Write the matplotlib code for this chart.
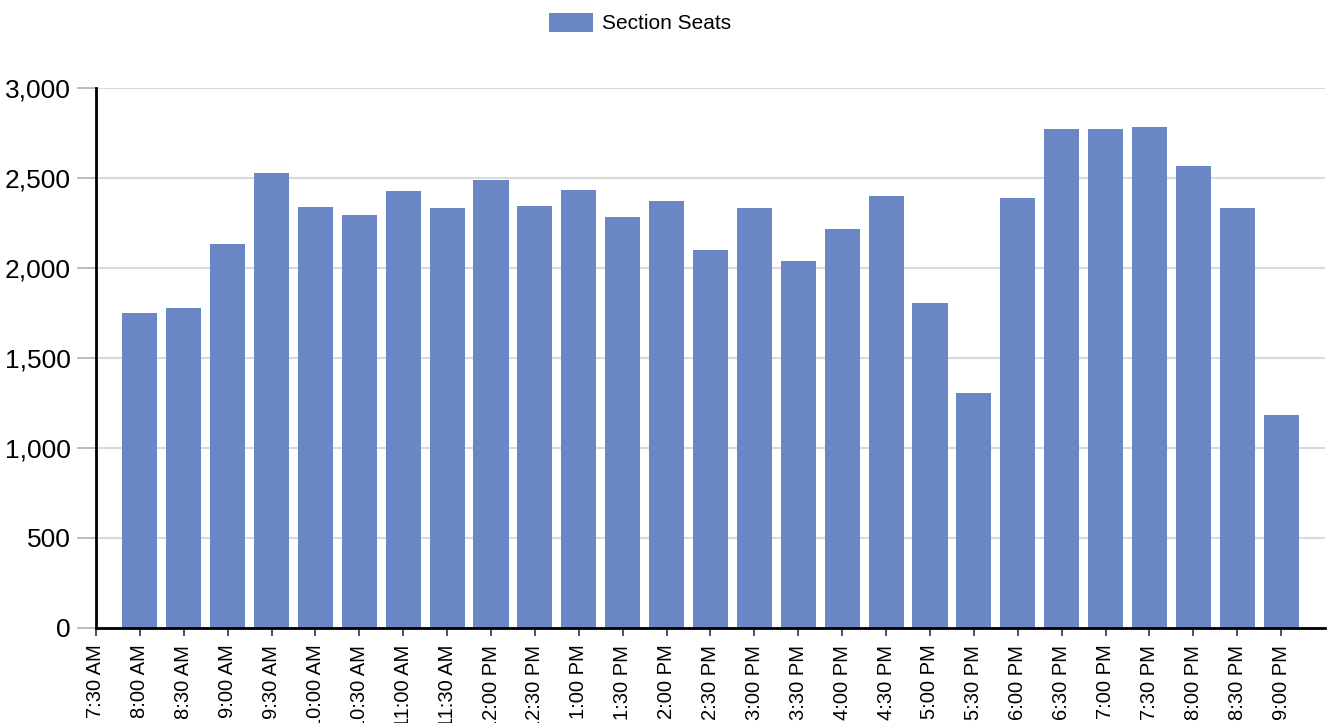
import matplotlib.pyplot as plt
from matplotlib.ticker import FuncFormatter

plt.rcParams['font.family'] = ['Liberation Sans', 'DejaVu Sans']

# godziny (kategorie) i liczba miejsc
godziny = ['7:30 AM', '8:00 AM', '8:30 AM', '9:00 AM', '9:30 AM', '10:00 AM',
           '10:30 AM', '11:00 AM', '11:30 AM', '12:00 PM', '12:30 PM', '1:00 PM',
           '1:30 PM', '2:00 PM', '2:30 PM', '3:00 PM', '3:30 PM', '4:00 PM',
           '4:30 PM', '5:00 PM', '5:30 PM', '6:00 PM', '6:30 PM', '7:00 PM',
           '7:30 PM', '8:00 PM', '8:30 PM', '9:00 PM']
miejsca = [0, 1750, 1778, 2133, 2528, 2339, 2294, 2428, 2333, 2489, 2344, 2433,
           2283, 2372, 2100, 2333, 2039, 2217, 2400, 1806, 1306, 2389, 2772,
           2772, 2783, 2567, 2333, 1183]

kolor = '#6a86c5'

fig = plt.figure(figsize=(13.31, 7.23), dpi=100)
ax = fig.add_axes([0.0721, 0.1314, 0.9234, 0.7469])

x = list(range(len(godziny)))
ax.bar(x, miejsca, width=0.8, color=kolor, label='Section Seats', zorder=2)

ax.set_xlim(0, len(godziny))
ax.set_ylim(0, 3000)
ax.set_yticks(range(0, 3001, 500))
ax.yaxis.set_major_formatter(FuncFormatter(lambda v, p: f'{int(v):,}'))
ax.set_xticks(x)
ax.set_xticklabels(godziny, rotation=90, fontsize=14.5)
ax.tick_params(axis='y', labelsize=19, length=14, color='#b0b0b0', width=1.2, pad=4)
ax.tick_params(axis='x', length=6, color='#333333', width=1.2, pad=6)

ax.grid(axis='y', color='#d9d9d9', linewidth=1.5, zorder=0)
for s in ['top', 'right']:
    ax.spines[s].set_visible(False)
ax.spines['left'].set_linewidth(2)
ax.spines['bottom'].set_linewidth(2)
ax.spines['left'].set_zorder(3)
ax.spines['bottom'].set_zorder(3)

fig.legend(loc='upper center', bbox_to_anchor=(0.481, 1.008), frameon=False,
           fontsize=15, handlelength=2.1, handleheight=1.0, handletextpad=0.45)

fig.savefig('out.png', dpi=100)
